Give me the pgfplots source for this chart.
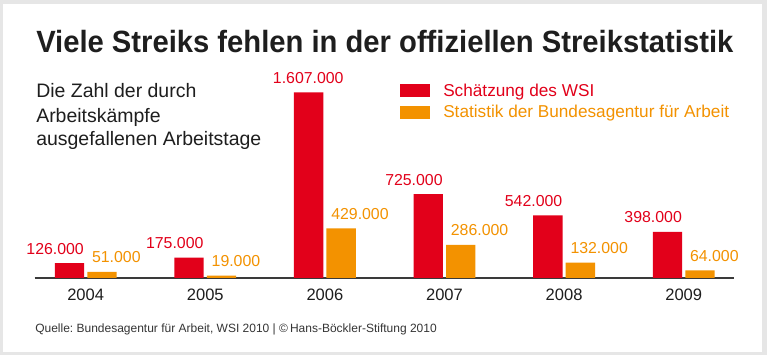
\documentclass[border=0pt]{standalone}
\usepackage{pgfplots}
\pgfplotsset{compat=1.18}
\usepackage{pgfplotstable}
\usepackage{fontspec}
\setmainfont{Liberation Sans}
\frenchspacing
\definecolor{wsired}{HTML}{E2001A}
\definecolor{wsiorange}{HTML}{F39200}
\definecolor{framegray}{HTML}{E6E6E6}
\definecolor{axisgray}{HTML}{3A3A3A}
\definecolor{txt}{HTML}{1E1E1E}

\pgfplotstableread{
x y dx
0 126000 11
1 175000 11
2 1607000 26.4
3 725000 11
4 542000 11
5 398000 11
}\wsidata
\pgfplotstableread{
x y dx
0 51000 -7.6
1 19000 -7.6
2 429000 -7.6
3 286000 -7.6
4 132000 -7.6
5 64000 -7.6
}\badata

\begin{document}
\begin{tikzpicture}[x=0.75pt,y=0.75pt]
\fill[framegray] (0,0) rectangle (767,355);
\fill[white] (3,3.3) rectangle (762,351);
\node[anchor=base west, inner sep=0pt, text=txt] at (36,302.7)
  {\resizebox{522.75pt}{16.7pt}{\bfseries Viele Streiks fehlen in der offiziellen Streikstatistik}};
\begin{scope}[every node/.style={anchor=base west, inner sep=0pt, text=txt, font=\fontsize{14.6pt}{18pt}\selectfont}]
\node at (36,257.3) {Die Zahl der durch};
\node at (36,232.7) {Arbeitskämpfe};
\node at (36,209.3) {ausgefallenen Arbeitstage};
\end{scope}
\fill[wsired] (400,258.3) rectangle (430,271);
\fill[wsiorange] (400,236.5) rectangle (430,249.3);
\node[anchor=base west, inner sep=0pt, text=wsired, font=\fontsize{12.9pt}{15pt}\selectfont] at (443,259) {Schätzung des WSI};
\node[anchor=base west, inner sep=0pt, text=wsiorange, font=\fontsize{12.9pt}{15pt}\selectfont] at (443,238) {Statistik der Bundesagentur für Arbeit};
\node[anchor=base west, inner sep=0pt, text=txt!90, font=\fontsize{9pt}{11pt}\selectfont] at (35,22.7)
  {Quelle: Bundesagentur für Arbeit, WSI 2010 | ©\,Hans-Böckler-Stiftung 2010};

\begin{axis}[
  at={(29,67)}, anchor=south west,
  scale only axis, width=524.25pt, height=138.975pt,
  xmin=-0.4264, xmax=5.418, ymin=0, ymax=1607000,
  axis x line*=bottom, hide y axis,
  x axis line style={-, line width=1.5pt, color=axisgray},
  xtick={0,1,2,3,4,5},
  xticklabels={2004,2005,2006,2007,2008,2009},
  major tick length=0pt,
  xticklabel style={font=\fontsize{12.4pt}{14pt}\selectfont, text=txt, inner sep=0pt, yshift=-8.5pt},
  ybar, bar width=22pt, clip=false,
  /pgf/number format/fixed,
  /pgf/number format/1000 sep={.},
  /pgf/number format/assume math mode=true,
]
\addplot[fill=wsired, draw=none, bar shift=-12.2pt, nodes near coords,
  visualization depends on={\thisrow{dx}\as\dx},
  every node near coord/.append style={anchor=south east, inner sep=0pt, xshift=\dx pt, yshift=6.4pt, text=wsired, font=\fontsize{11.9pt}{14pt}\selectfont}]
  table[x=x,y=y]{\wsidata};
\addplot[fill=wsiorange, draw=none, bar shift=12.2pt, nodes near coords,
  visualization depends on={\thisrow{dx}\as\dx},
  every node near coord/.append style={anchor=south west, inner sep=0pt, xshift=\dx pt, yshift=6.4pt, text=wsiorange, font=\fontsize{11.9pt}{14pt}\selectfont}]
  table[x=x,y=y]{\badata};
\end{axis}
\pgfresetboundingbox
\useasboundingbox (0,0) rectangle (767,355);
\end{tikzpicture}
\end{document}
